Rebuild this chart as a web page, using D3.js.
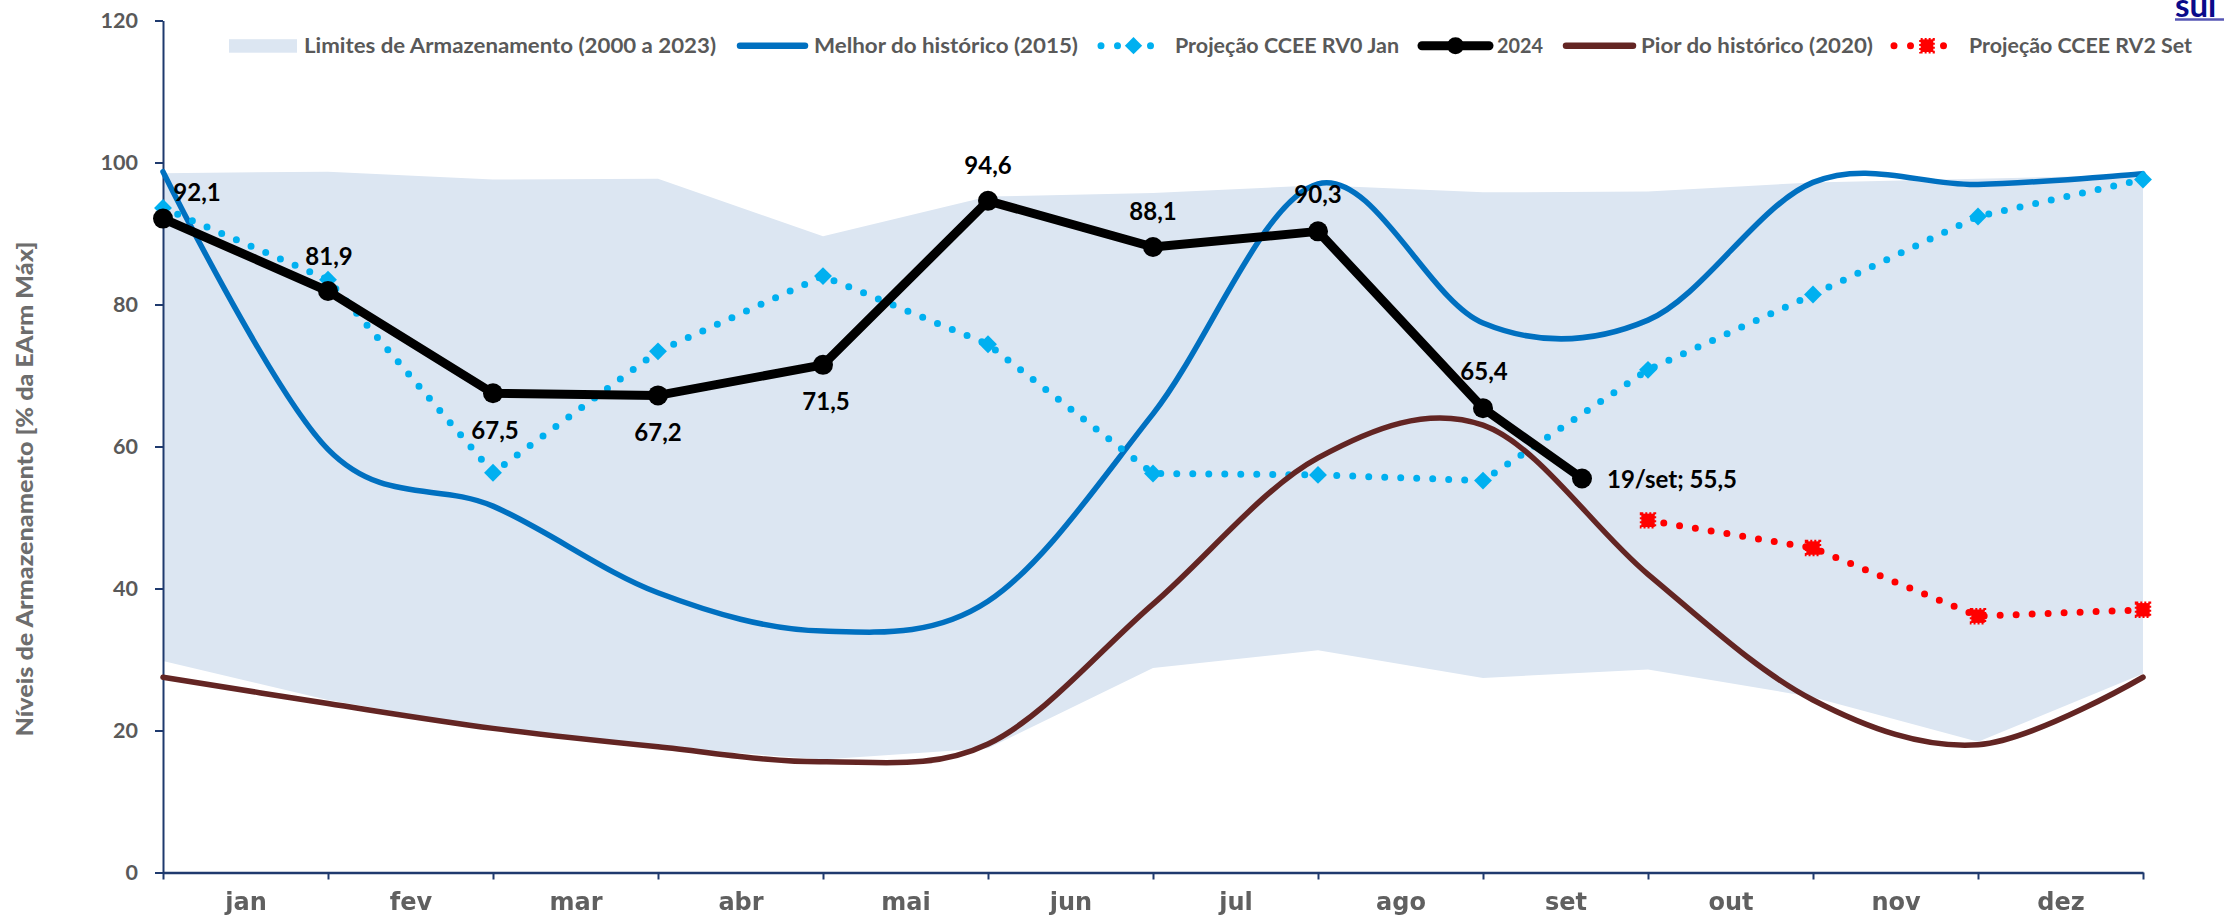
<!DOCTYPE html>
<html>
<head>
<meta charset="utf-8">
<script src="https://cdn.jsdelivr.net/npm/d3@7"></script>
<style>
  html, body { margin: 0; padding: 0; background: #fff; }
  svg { display: block; }
</style>
</head>
<body>
<svg id="chart" width="2224" height="917"></svg>
<script>
// Month labels (each label sits in the interval that ends on its tick)
const months = ['jan', 'fev', 'mar', 'abr', 'mai', 'jun', 'jul', 'ago', 'set', 'out', 'nov', 'dez'];
const yTicks = [0, 20, 40, 60, 80, 100, 120];

// Historical storage envelope 2000–2023 (% EArm máx), 13 month-boundary points
const storageMax = [98.5, 98.7, 97.6, 97.7, 89.6, 95.2, 95.7, 96.8, 95.8, 95.9, 97.2, 97.7, 98.3];
const storageMin = [29.8, 24.3, 20.3, 17.7, 15.9, 17.5, 28.8, 31.3, 27.4, 28.6, 24.7, 18.4, 28.0];

// Best (2015) and worst (2020) years
const best2015 = [98.7, 59.6, 51.6, 39.4, 34.0, 38.2, 64.6, 97.0, 77.4, 77.8, 97.2, 96.9, 98.4];
const worst2020 = [27.5, 23.8, 20.3, 17.7, 15.6, 18.1, 37.8, 58.4, 63.0, 42.0, 24.3, 18.0, 27.5];

// CCEE projections
const projRV0 = [93.6, 83.5, 56.3, 73.4, 84.0, 74.4, 56.2, 56.0, 55.2, 70.8, 81.4, 92.4, 97.6];
const projRV2 = [49.6, 45.7, 36.1, 37.0];
const projRV2Start = 9;

// 2024 observed levels; the last reading is mid-September
const level2024 = [92.1, 81.9, 67.5, 67.2, 71.5, 94.6, 88.1, 90.3, 65.4, 55.5];
const lastReadingMonth = 8;   // index of the September interval start
const lastReadingDay = 19;
const level2024Labels = ['92,1', '81,9', '67,5', '67,2', '71,5', '94,6', '88,1', '90,3', '65,4', '19/set; 55,5'];

// Legend entries
const legendNames = [
  'Limites de Armazenamento (2000 a 2023)',
  'Melhor do histórico (2015)',
  'Projeção CCEE RV0 Jan',
  '2024',
  'Pior do histórico (2020)',
  'Projeção CCEE RV2 Set'
];

// ---------- layout & style ----------
const C = {
  band: '#DCE6F2',
  best: '#0070C0',
  worst: '#632523',
  rv0: '#00B0F0',
  rv2: '#FF0000',
  y2024: '#000000',
  axis: '#1F3A6E',
  text: '#595959'
};
const FONT = 'Lato, "Open Sans", sans-serif';

const svg = d3.select('#chart');
const defs = svg.append('defs');
defs.append('filter').attr('id', 'soft')
  .append('feGaussianBlur').attr('stdDeviation', 0.7);

const x = d3.scaleLinear().domain([0, 12]).range([163, 2143]);
const y = d3.scaleLinear().domain([0, 120]).range([872.5, 20.5]);

const idx = d3.range(13);

// ---------- storage envelope ----------
const band = d3.area()
  .x(i => x(i))
  .y0(i => y(storageMin[i]))
  .y1(i => y(storageMax[i]));
svg.append('path').datum(idx).attr('d', band).attr('fill', C.band);

// ---------- axes ----------
const yAxis = d3.axisLeft(y).tickValues(yTicks).tickSize(8).tickSizeOuter(0).tickPadding(17)
  .tickFormat(d3.format('d'));
const gy = svg.append('g').attr('transform', `translate(${x(0)},0)`).call(yAxis);
gy.select('.domain').attr('stroke', C.axis).attr('stroke-width', 2);
gy.selectAll('.tick line').attr('stroke', C.axis).attr('stroke-width', 2);
gy.selectAll('.tick text')
  .attr('font-family', FONT).attr('font-weight', 700).attr('font-size', 21.5)
  .attr('fill', C.text).attr('dy', '0.33em');

const xAxis = d3.axisBottom(x).tickValues(idx).tickSize(7).tickSizeOuter(0).tickFormat('');
const gx = svg.append('g').attr('transform', `translate(0,${y(0)})`).call(xAxis);
gx.select('.domain').attr('stroke', C.axis).attr('stroke-width', 2.5);
gx.selectAll('.tick line').attr('stroke', C.axis).attr('stroke-width', 2);

const xLabels = d3.axisBottom(x).tickValues(d3.range(12).map(i => i + 0.5)).tickSize(0)
  .tickPadding(0).tickFormat(d => months[Math.floor(d)]);
const gxl = svg.append('g').attr('transform', `translate(0,${y(0)})`).call(xLabels);
gxl.select('.domain').remove();
gxl.selectAll('.tick text')
  .attr('y', 37.5).attr('dy', 0)
  .attr('font-family', '"DejaVu Sans", Verdana, sans-serif').attr('font-weight', 700)
  .attr('font-size', 24).attr('fill', '#606060').attr('filter', 'url(#soft)');

// y-axis title
svg.append('text')
  .attr('transform', 'translate(33,489) rotate(-90)')
  .attr('text-anchor', 'middle')
  .attr('font-family', FONT).attr('font-weight', 900).attr('font-size', 23)
  .attr('fill', '#6d6d6d')
  .attr('textLength', 495).attr('lengthAdjust', 'spacingAndGlyphs')
  .text('Níveis de Armazenamento [% da EArm Máx]');

// ---------- series ----------
const smooth = d3.line().x(d => x(d.i)).y(d => y(d.v)).curve(d3.curveCardinal.tension(0));
const straight = d3.line().x(d => x(d.i)).y(d => y(d.v));

const bestPts = best2015.map((v, i) => ({ i, v }));
const worstPts = worst2020.map((v, i) => ({ i, v }));
const rv0Pts = projRV0.map((v, i) => ({ i, v }));
const rv2Pts = projRV2.map((v, k) => ({ i: projRV2Start + k, v }));
const pts2024 = level2024.map((v, i) => ({
  i: i <= lastReadingMonth ? i : lastReadingMonth + (lastReadingDay - 1) / 30,
  v,
  label: level2024Labels[i]
}));

// Best year (2015)
svg.append('path').datum(bestPts).attr('d', smooth)
  .attr('fill', 'none').attr('stroke', C.best).attr('stroke-width', 5.5).attr('stroke-linecap', 'round');

// Projection RV0
svg.append('path').datum(rv0Pts).attr('d', straight)
  .attr('fill', 'none').attr('stroke', C.rv0).attr('stroke-width', 7)
  .attr('stroke-linecap', 'round').attr('stroke-dasharray', '0 16');
const diamond = d3.symbol(d3.symbolSquare, 160);
svg.append('g').selectAll('path').data(rv0Pts).join('path')
  .attr('d', diamond)
  .attr('transform', d => `translate(${x(d.i)},${y(d.v)}) rotate(45)`)
  .attr('fill', C.rv0);

// 2024
svg.append('path').datum(pts2024).attr('d', straight)
  .attr('fill', 'none').attr('stroke', C.y2024).attr('stroke-width', 9)
  .attr('stroke-linejoin', 'round');
svg.append('g').selectAll('circle').data(pts2024).join('circle')
  .attr('cx', d => x(d.i)).attr('cy', d => y(d.v)).attr('r', 10).attr('fill', C.y2024);

// Worst year (2020)
svg.append('path').datum(worstPts).attr('d', smooth)
  .attr('fill', 'none').attr('stroke', C.worst).attr('stroke-width', 5.5).attr('stroke-linecap', 'round');

// Projection RV2
svg.append('path').datum(rv2Pts).attr('d', straight)
  .attr('fill', 'none').attr('stroke', C.rv2).attr('stroke-width', 7)
  .attr('stroke-linecap', 'round').attr('stroke-dasharray', '0 16');
const square = d3.symbol(d3.symbolSquare, 180);
svg.append('g').selectAll('path').data(rv2Pts).join('path')
  .attr('d', square)
  .attr('transform', d => `translate(${x(d.i)},${y(d.v)})`)
  .attr('fill', C.rv2).attr('stroke', C.rv2).attr('stroke-width', 3)
  .attr('stroke-dasharray', '2 2');

// 2024 value labels: [dx, baseline dy, anchor]
const labelPlacement = [
  [34, -18, 'middle'], [1, -26, 'middle'], [2, 46, 'middle'], [0, 46, 'middle'],
  [3, 45, 'middle'], [0, -27, 'middle'], [0, -27, 'middle'], [0, -28, 'middle'],
  [1, -28, 'middle'], [25, 10, 'start']
];
svg.append('g').selectAll('text').data(pts2024).join('text')
  .attr('x', (d, k) => x(d.i) + labelPlacement[k][0])
  .attr('y', (d, k) => y(d.v) + labelPlacement[k][1])
  .attr('text-anchor', (d, k) => labelPlacement[k][2])
  .attr('font-family', FONT).attr('font-weight', 700).attr('font-size', 24)
  .attr('fill', '#000')
  .text(d => d.label);

// ---------- legend ----------
const legendY = 45.7;
const legendLayout = [
  { s0: 229, s1: 297, tx: 304, tw: 412, kind: 'band' },
  { s0: 737, s1: 808, tx: 814, tw: 264, kind: 'best' },
  { s0: 1098, s1: 1169, tx: 1175, tw: 224, kind: 'rv0' },
  { s0: 1418, s1: 1493, tx: 1497, tw: 46, kind: 'y2024' },
  { s0: 1563, s1: 1636, tx: 1641, tw: 232, kind: 'worst' },
  { s0: 1891, s1: 1963, tx: 1969, tw: 223, kind: 'rv2' }
];
const lg = svg.append('g');
legendLayout.forEach((L, k) => {
  const g = lg.append('g');
  const mid = (L.s0 + L.s1) / 2;
  if (L.kind === 'band') {
    g.append('rect').attr('x', L.s0).attr('y', legendY - 6.5).attr('width', L.s1 - L.s0).attr('height', 13.5)
      .attr('fill', C.band);
  } else if (L.kind === 'best' || L.kind === 'worst') {
    g.append('line').attr('x1', L.s0 + 3).attr('x2', L.s1 - 3).attr('y1', legendY).attr('y2', legendY)
      .attr('stroke', C[L.kind]).attr('stroke-width', 6.5).attr('stroke-linecap', 'round');
  } else if (L.kind === 'y2024') {
    g.append('line').attr('x1', L.s0 + 4).attr('x2', L.s1 - 4).attr('y1', legendY).attr('y2', legendY)
      .attr('stroke', C.y2024).attr('stroke-width', 9).attr('stroke-linecap', 'round');
    g.append('circle').attr('cx', mid).attr('cy', legendY).attr('r', 8.5).attr('fill', C.y2024);
  } else {
    g.append('line').attr('x1', L.s0 + 3).attr('x2', L.s1 - 3).attr('y1', legendY).attr('y2', legendY)
      .attr('stroke', C[L.kind]).attr('stroke-width', 7).attr('stroke-linecap', 'round')
      .attr('stroke-dasharray', '0 16.5');
    if (L.kind === 'rv0') {
      g.append('path').attr('d', d3.symbol(d3.symbolSquare, 150)())
        .attr('transform', `translate(${mid},${legendY}) rotate(45)`).attr('fill', C.rv0);
    } else {
      g.append('path').attr('d', d3.symbol(d3.symbolSquare, 160)())
        .attr('transform', `translate(${mid},${legendY})`)
        .attr('fill', C.rv2).attr('stroke', C.rv2).attr('stroke-width', 3).attr('stroke-dasharray', '2 2');
    }
  }
  g.append('text').attr('x', L.tx).attr('y', 52.6)
    .attr('font-family', FONT).attr('font-weight', 700).attr('font-size', 20.5)
    .attr('fill', C.text)
    .attr('textLength', L.tw).attr('lengthAdjust', 'spacingAndGlyphs')
    .text(legendNames[k]);
});

// ---------- subsystem tag at the top-right edge ----------
svg.append('text').attr('x', 2175).attr('y', 16.5)
  .attr('font-family', FONT).attr('font-weight', 700).attr('font-size', 33)
  .attr('fill', '#0A0A8A').text('sul');
svg.append('line').attr('x1', 2175).attr('x2', 2224).attr('y1', 19.5).attr('y2', 19.5)
  .attr('stroke', '#5656B4').attr('stroke-width', 2.5);
</script>
</body>
</html>
